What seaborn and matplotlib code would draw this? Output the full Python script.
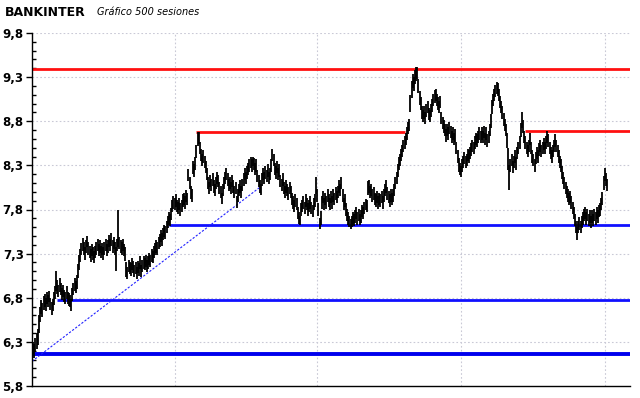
import numpy as np
import matplotlib
matplotlib.use("Agg")
import matplotlib.pyplot as plt
from matplotlib.ticker import MultipleLocator, FuncFormatter, FixedLocator
import seaborn as sns

# daily highs / lows, 500 sessions
highs = [
    6.30, 6.28, 6.34, 6.40, 6.45, 6.60, 6.70, 6.78, 6.74, 6.82,
    6.84, 6.80, 6.86, 6.83, 6.88, 6.80, 6.75, 6.79, 6.87, 6.93,
    7.10, 7.00, 6.95, 7.02, 6.97, 6.91, 6.95, 6.89, 6.87, 6.93,
    6.87, 6.85, 6.83, 6.79, 6.91, 6.97, 7.02, 6.99, 7.06, 7.18,
    7.28, 7.35, 7.42, 7.48, 7.43, 7.37, 7.45, 7.50, 7.43, 7.39,
    7.35, 7.41, 7.37, 7.33, 7.39, 7.43, 7.47, 7.41, 7.45, 7.39,
    7.42, 7.37, 7.43, 7.47, 7.41, 7.45, 7.51, 7.47, 7.53, 7.45,
    7.49, 7.43, 7.38, 7.47, 7.80, 7.49, 7.45, 7.43, 7.47, 7.41,
    7.37, 7.20, 7.15, 7.23, 7.21, 7.19, 7.25, 7.22, 7.17, 7.21,
    7.15, 7.22, 7.19, 7.27, 7.17, 7.23, 7.27, 7.25, 7.29, 7.23,
    7.27, 7.31, 7.29, 7.35, 7.33, 7.39, 7.42, 7.45, 7.43, 7.49,
    7.52, 7.57, 7.53, 7.59, 7.63, 7.61, 7.67, 7.73, 7.77, 7.75,
    7.82, 7.91, 7.95, 7.93, 7.97, 7.91, 7.89, 7.93, 7.87, 7.91,
    7.97, 7.99, 7.95, 8.02, 7.99, 8.26, 8.17, 8.07, 8.03, 8.35,
    8.31, 8.39, 8.53, 8.68, 8.68, 8.57, 8.49, 8.43, 8.47, 8.41,
    8.35, 8.27, 8.17, 8.11, 8.19, 8.15, 8.21, 8.13, 8.09, 8.17,
    8.23, 8.19, 8.11, 8.07, 7.99, 8.09, 8.17, 8.23, 8.27, 8.21,
    8.15, 8.17, 8.11, 8.19, 8.13, 8.07, 8.11, 7.95, 8.03, 8.09,
    8.13, 8.07, 8.15, 8.21, 8.27, 8.23, 8.29, 8.33, 8.37, 8.40,
    8.37, 8.40, 8.38, 8.33, 8.37, 8.25, 8.19, 8.13, 8.09, 8.21,
    8.27, 8.23, 8.29, 8.25, 8.31, 8.23, 8.27, 8.37, 8.48, 8.43,
    8.33, 8.29, 8.35, 8.27, 8.31, 8.19, 8.15, 8.21, 8.11, 8.07,
    8.13, 8.09, 8.05, 8.11, 8.07, 7.99, 7.95, 7.91, 7.97, 7.93,
    7.83, 7.77, 7.73, 7.87, 7.91, 7.95, 7.89, 7.97, 7.93, 7.87,
    7.91, 7.95, 7.89, 7.85, 7.93, 7.97, 8.17, 8.03, 7.87, 7.70,
    7.78, 7.95, 8.01, 7.93, 7.99, 7.95, 8.03, 7.97, 7.93, 8.01,
    7.95, 8.03, 7.99, 8.05, 8.01, 8.07, 8.13, 8.09, 8.17, 8.03,
    7.93, 7.97, 7.87, 7.81, 7.77, 7.73, 7.69, 7.73, 7.77, 7.75,
    7.79, 7.83, 7.77, 7.81, 7.75, 7.79, 7.85, 7.83, 7.89, 7.92,
    7.91, 8.12, 8.13, 8.07, 8.09, 8.03, 8.05, 7.99, 7.97, 8.01,
    7.95, 7.99, 7.97, 8.01, 7.95, 8.03, 8.09, 8.13, 8.05, 8.01,
    7.97, 8.03, 7.99, 8.03, 8.09, 8.17, 8.23, 8.31, 8.39, 8.43,
    8.49, 8.53, 8.59, 8.63, 8.67, 8.73, 8.79, 8.83, 9.10, 9.26,
    9.34, 9.30, 9.38, 9.42, 9.42, 9.28, 9.14, 9.07, 8.97, 8.93,
    8.97, 8.91, 8.99, 9.03, 8.95, 8.93, 8.99, 9.05, 9.11, 9.15,
    9.16, 9.11, 9.07, 9.03, 9.09, 8.91, 8.85, 8.81, 8.77, 8.71,
    8.77, 8.73, 8.79, 8.75, 8.69, 8.73, 8.67, 8.71, 8.57, 8.47,
    8.38, 8.33, 8.29, 8.37, 8.41, 8.45, 8.41, 8.43, 8.49, 8.47,
    8.51, 8.55, 8.59, 8.57, 8.63, 8.67, 8.65, 8.69, 8.73, 8.69,
    8.73, 8.69, 8.75, 8.67, 8.73, 8.65, 8.69, 8.77, 8.88, 9.04,
    9.11, 9.17, 9.21, 9.25, 9.23, 9.17, 9.09, 9.03, 8.97, 8.89,
    8.83, 8.77, 8.67, 8.50, 8.30, 8.37, 8.43, 8.35, 8.41, 8.47,
    8.39, 8.51, 8.57, 8.63, 8.78, 8.90, 8.81, 8.69, 8.63, 8.57,
    8.53, 8.59, 8.67, 8.57, 8.47, 8.43, 8.37, 8.45, 8.51, 8.47,
    8.55, 8.59, 8.53, 8.57, 8.61, 8.57, 8.63, 8.69, 8.65, 8.57,
    8.51, 8.47, 8.53, 8.59, 8.65, 8.59, 8.53, 8.47, 8.41, 8.37,
    8.29, 8.23, 8.17, 8.11, 8.07, 8.03, 7.99, 8.01, 7.95, 7.89,
    7.83, 7.75, 7.67, 7.60, 7.67, 7.71, 7.67, 7.73, 7.77, 7.81,
    7.83, 7.77, 7.81, 7.75, 7.79, 7.73, 7.79, 7.75, 7.81, 7.77,
    7.83, 7.79, 7.85, 7.87, 7.93, 8.00, 8.18, 8.27, 8.21, 8.15,
]
lows = [
    6.16, 6.12, 6.18, 6.22, 6.26, 6.40, 6.52, 6.62, 6.58, 6.66,
    6.70, 6.65, 6.73, 6.69, 6.75, 6.66, 6.60, 6.65, 6.72, 6.79,
    6.88, 6.84, 6.81, 6.87, 6.83, 6.77, 6.81, 6.75, 6.73, 6.79,
    6.73, 6.71, 6.69, 6.65, 6.76, 6.83, 6.88, 6.85, 6.90, 7.02,
    7.12, 7.21, 7.28, 7.33, 7.29, 7.23, 7.31, 7.37, 7.29, 7.25,
    7.21, 7.27, 7.23, 7.19, 7.25, 7.29, 7.33, 7.27, 7.31, 7.25,
    7.28, 7.23, 7.29, 7.33, 7.27, 7.31, 7.37, 7.33, 7.39, 7.31,
    7.35, 7.29, 7.10, 7.33, 7.38, 7.35, 7.31, 7.29, 7.33, 7.27,
    7.22, 7.04, 7.01, 7.09, 7.07, 7.05, 7.11, 7.08, 7.03, 7.07,
    7.01, 7.08, 7.05, 7.13, 7.03, 7.09, 7.13, 7.11, 7.15, 7.09,
    7.13, 7.17, 7.15, 7.21, 7.19, 7.25, 7.28, 7.31, 7.29, 7.35,
    7.38, 7.43, 7.39, 7.45, 7.49, 7.47, 7.53, 7.59, 7.63, 7.61,
    7.68, 7.77, 7.81, 7.79, 7.83, 7.77, 7.75, 7.79, 7.73, 7.77,
    7.83, 7.85, 7.81, 7.88, 7.85, 8.12, 8.03, 7.92, 7.89, 8.20,
    8.17, 8.25, 8.38, 8.52, 8.54, 8.43, 8.35, 8.29, 8.33, 8.27,
    8.21, 8.13, 8.03, 7.97, 8.05, 8.01, 8.07, 7.99, 7.95, 8.03,
    8.09, 8.05, 7.97, 7.93, 7.86, 7.95, 8.03, 8.09, 8.13, 8.07,
    8.01, 8.03, 7.97, 8.05, 7.99, 7.93, 7.97, 7.82, 7.89, 7.95,
    7.99, 7.93, 8.01, 8.07, 8.13, 8.09, 8.15, 8.19, 8.23, 8.27,
    8.23, 8.29, 8.25, 8.19, 8.23, 8.11, 8.05, 7.99, 7.96, 8.07,
    8.13, 8.09, 8.15, 8.11, 8.17, 8.09, 8.13, 8.23, 8.35, 8.29,
    8.19, 8.15, 8.21, 8.13, 8.17, 8.05, 8.01, 8.07, 7.97, 7.93,
    7.99, 7.95, 7.91, 7.97, 7.93, 7.85, 7.81, 7.77, 7.83, 7.79,
    7.69, 7.64, 7.62, 7.73, 7.77, 7.81, 7.75, 7.83, 7.79, 7.73,
    7.77, 7.81, 7.75, 7.71, 7.79, 7.83, 7.98, 7.89, 7.73, 7.58,
    7.63, 7.81, 7.87, 7.79, 7.85, 7.81, 7.89, 7.83, 7.79, 7.87,
    7.81, 7.89, 7.85, 7.91, 7.87, 7.93, 7.99, 7.95, 8.03, 7.89,
    7.79, 7.83, 7.73, 7.67, 7.63, 7.60, 7.58, 7.60, 7.63, 7.61,
    7.65, 7.69, 7.63, 7.67, 7.62, 7.65, 7.71, 7.69, 7.75, 7.79,
    7.77, 7.96, 7.99, 7.93, 7.95, 7.89, 7.91, 7.85, 7.83, 7.87,
    7.81, 7.85, 7.83, 7.87, 7.81, 7.89, 7.95, 7.99, 7.91, 7.87,
    7.83, 7.89, 7.85, 7.89, 7.95, 8.03, 8.09, 8.17, 8.25, 8.29,
    8.35, 8.39, 8.45, 8.49, 8.53, 8.59, 8.65, 8.69, 8.90, 9.06,
    9.18, 9.14, 9.22, 9.26, 9.28, 9.12, 8.98, 8.93, 8.83, 8.79,
    8.83, 8.77, 8.85, 8.89, 8.81, 8.79, 8.85, 8.91, 8.97, 9.01,
    9.03, 8.97, 8.93, 8.89, 8.95, 8.77, 8.71, 8.67, 8.63, 8.57,
    8.63, 8.59, 8.65, 8.61, 8.55, 8.59, 8.53, 8.57, 8.43, 8.33,
    8.22, 8.19, 8.17, 8.23, 8.27, 8.31, 8.27, 8.29, 8.35, 8.33,
    8.37, 8.41, 8.45, 8.43, 8.49, 8.53, 8.51, 8.55, 8.59, 8.55,
    8.59, 8.55, 8.61, 8.53, 8.59, 8.51, 8.55, 8.63, 8.72, 8.88,
    8.97, 9.03, 9.07, 9.11, 9.09, 9.03, 8.95, 8.89, 8.83, 8.75,
    8.69, 8.63, 8.50, 8.25, 8.02, 8.23, 8.29, 8.21, 8.27, 8.33,
    8.25, 8.37, 8.43, 8.49, 8.62, 8.72, 8.67, 8.55, 8.49, 8.43,
    8.39, 8.45, 8.53, 8.43, 8.33, 8.29, 8.22, 8.31, 8.37, 8.33,
    8.41, 8.45, 8.39, 8.43, 8.47, 8.43, 8.49, 8.55, 8.51, 8.43,
    8.37, 8.33, 8.39, 8.45, 8.51, 8.45, 8.39, 8.33, 8.27, 8.23,
    8.15, 8.09, 8.03, 7.97, 7.93, 7.89, 7.85, 7.87, 7.81, 7.75,
    7.69, 7.61, 7.53, 7.45, 7.53, 7.57, 7.53, 7.59, 7.63, 7.67,
    7.69, 7.63, 7.67, 7.61, 7.65, 7.59, 7.65, 7.61, 7.67, 7.63,
    7.69, 7.65, 7.71, 7.73, 7.79, 7.85, 8.02, 8.12, 8.07, 8.01,
]
sessions = np.arange(len(highs))

# support / resistance levels: (value, first session, last session)
resist_levels = [9.39, 8.68, 8.69]
resist_start = [-1, 142, 428]
resist_end = [519, 323, 519]
support_levels = [7.63, 6.77]
support_start = [118, 21]
support_end = [519, 519]
base_level = 6.16

trend_x = [-1, 197]
trend_y = [6.08, 8.05]

yticks = [5.8, 6.3, 6.8, 7.3, 7.8, 8.3, 8.8, 9.3, 9.8]
xgrid = [123, 247, 372, 497]

sns.set_theme(style="white")
plt.rcParams['font.family'] = ['DejaVu Sans']
plt.rcParams['text.color'] = 'black'
plt.rcParams['ytick.color'] = 'black'
plt.rcParams['ytick.labelcolor'] = 'black'

fig = plt.figure(figsize=(6.4, 3.98), dpi=100)
ax = fig.add_axes([32/640, 1 - 386/398, 598/640, 353/398])

for y in yticks[1:]:
    ax.axhline(y, color='#c9c9d6', lw=0.8, ls=(0, (1.5, 2)), zorder=0)
for x in xgrid:
    ax.axvline(x, color='#c9c9d6', lw=0.8, ls=(0, (1.5, 2)), zorder=0)

ax.hlines(resist_levels, resist_start, resist_end, color='#ff1010', lw=2.0, zorder=2)
ax.hlines(support_levels, support_start, support_end, color='#1010ff', lw=2.0, zorder=2)
ax.axhline(base_level, color='#0000ee', lw=2.8, zorder=2)

sns.lineplot(x=trend_x, y=trend_y, ax=ax, color='#2020ff', lw=0.8,
             linestyle=(0, (2, 1.5)), zorder=2)

ax.vlines(sessions, lows, highs, color='black', lw=1.3, zorder=3)

ax.set_xlim(-1, 519)
ax.set_ylim(5.8, 9.8)
ax.yaxis.set_major_locator(FixedLocator(yticks))
ax.yaxis.set_minor_locator(MultipleLocator(0.1))
ax.yaxis.set_major_formatter(FuncFormatter(lambda v, p: f"{v:.1f}".replace('.', ',')))
ax.tick_params(axis='y', which='major', direction='out', length=4, width=1,
               color='black', labelcolor='black', labelsize=8.5, pad=2, left=True)
ax.tick_params(axis='y', which='minor', direction='in', length=3, width=1,
               color='black', left=True)
for lab in ax.get_yticklabels():
    lab.set_fontweight('bold')
ax.set_xticks([])
ax.set_xlabel('')
ax.set_ylabel('')

for side in ['top', 'right']:
    ax.spines[side].set_visible(False)
for side in ['left', 'bottom']:
    ax.spines[side].set_color('black')
    ax.spines[side].set_linewidth(1.0)

fig.text(5/640, 1 - 12/398, 'BANKINTER', fontsize=9, fontweight='bold',
         color='black', va='center', ha='left')
fig.text(97/640, 1 - 12/398, 'Gráfico 500 sesiones', fontsize=7,
         style='italic', color='black', va='center', ha='left')

fig.savefig('out.png', dpi=100)
